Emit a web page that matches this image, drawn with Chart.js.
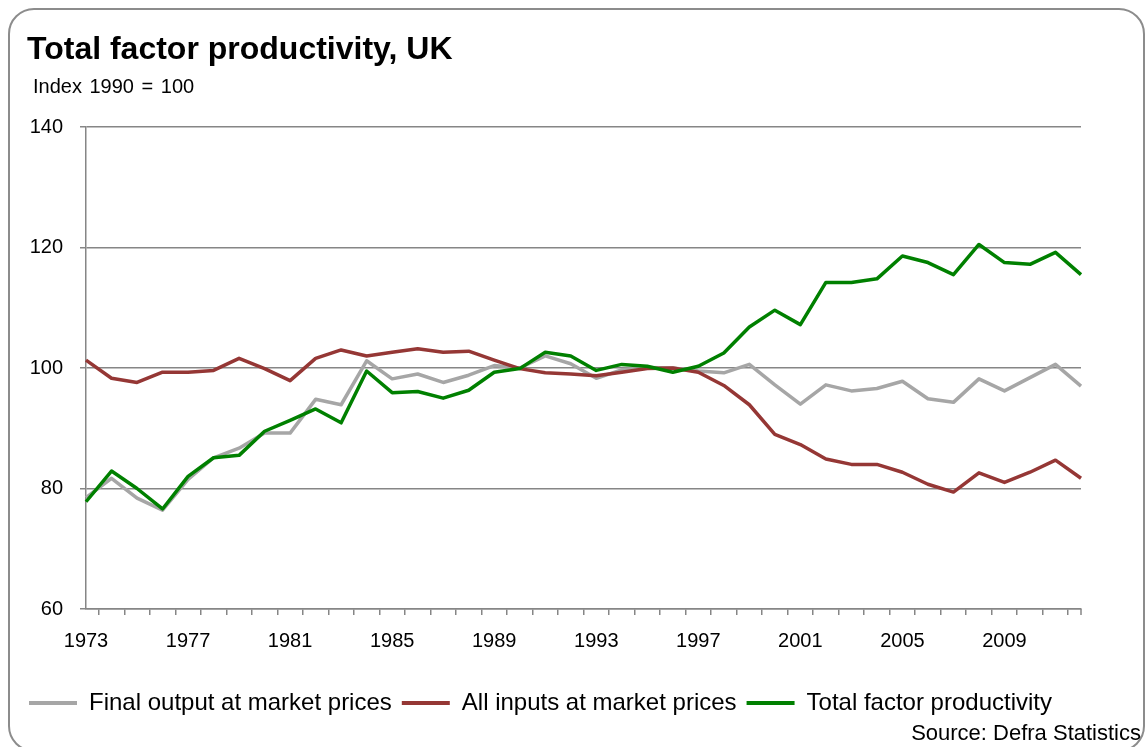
<!DOCTYPE html>
<html>
<head>
<meta charset="utf-8">
<title>Total factor productivity, UK</title>
<script src="https://cdn.jsdelivr.net/npm/chart.js@4/dist/chart.umd.min.js"></script>
<style>
  html, body { margin: 0; padding: 0; background: #fff; }
  #wrap { position: relative; width: 1148px; height: 747px; overflow: hidden; font-family: 'Liberation Sans', Arial, sans-serif; }
  #frame { position: absolute; left: 8px; top: 8px; width: 1137px; height: 744px; border: 2px solid #8c8c8c; border-radius: 26px; box-sizing: border-box; pointer-events: none; }
  .txt { position: absolute; color: #000; white-space: nowrap; pointer-events: none; }
  #title { left: 27px; top: 32px; font-size: 32px; line-height: 32px; font-weight: bold; }
  #subtitle { left: 33px; top: 76px; font-size: 20px; line-height: 20px; word-spacing: 2px; }
  #source { right: 7px; top: 722px; font-size: 22px; line-height: 22px; }
</style>
</head>
<body>
<div id="wrap">
  <canvas id="tfp-chart" width="1148" height="747"></canvas>
  <div id="frame"></div>
  <div class="txt" id="title">Total factor productivity, UK</div>
  <div class="txt" id="subtitle">Index 1990 = 100</div>
  <div class="txt" id="source">Source: Defra Statistics</div>
</div>
<script>
// Datos (índice 1990 = 100)
const years = ["1973", "1974", "1975", "1976", "1977", "1978", "1979", "1980", "1981", "1982",
               "1983", "1984", "1985", "1986", "1987", "1988", "1989", "1990", "1991", "1992",
               "1993", "1994", "1995", "1996", "1997", "1998", "1999", "2000", "2001", "2002",
               "2003", "2004", "2005", "2006", "2007", "2008", "2009", "2010", "2011", "2012"];

const finalOutput = [78.5, 81.7, 78.4, 76.4, 81.5, 85.1, 86.7, 89.2, 89.2, 94.8,
                     93.9, 101.2, 98.2, 99.0, 97.6, 98.8, 100.4, 100.0, 102.0, 100.7,
                     98.3, 99.7, 100.1, 100.0, 99.5, 99.2, 100.6, 97.2, 94.0, 97.2,
                     96.2, 96.6, 97.8, 94.9, 94.3, 98.2, 96.2, 98.4, 100.6, 97.0];

const allInputs = [101.3, 98.3, 97.6, 99.3, 99.3, 99.6, 101.6, 99.9, 97.9, 101.6,
                   103.0, 102.0, 102.6, 103.2, 102.6, 102.8, 101.3, 99.9, 99.2, 99.0,
                   98.7, 99.3, 99.9, 100.0, 99.3, 97.1, 93.9, 89.0, 87.3, 84.9,
                   84.0, 84.0, 82.7, 80.7, 79.4, 82.6, 81.0, 82.7, 84.7, 81.7];

const tfp = [77.8, 82.9, 80.0, 76.6, 82.0, 85.1, 85.5, 89.5, 91.3, 93.2,
             90.9, 99.5, 95.9, 96.1, 95.0, 96.3, 99.3, 99.9, 102.6, 102.0,
             99.6, 100.6, 100.3, 99.3, 100.3, 102.5, 106.8, 109.6, 107.2, 114.2,
             114.2, 114.8, 118.6, 117.5, 115.5, 120.5, 117.5, 117.2, 119.2, 115.5];

const yTicks = [60, 80, 100, 120, 140];

const gridColor = "#868686";

Chart.defaults.font.family = "'Liberation Sans', Arial, sans-serif";
Chart.defaults.color = "#000";

// Marca final del eje X (cierre a la derecha, como en Excel)
const endTick = {
  id: 'endTick',
  afterDraw(chart) {
    const { ctx, chartArea } = chart;
    ctx.save();
    ctx.strokeStyle = gridColor;
    ctx.lineWidth = 1.5;
    ctx.beginPath();
    ctx.moveTo(chartArea.right, chartArea.bottom);
    ctx.lineTo(chartArea.right, chartArea.bottom + 6);
    ctx.stroke();
    ctx.restore();
  }
};

new Chart(document.getElementById("tfp-chart"), {
  type: 'line',
  data: {
    labels: years,
    datasets: [
      {
        label: "Final output at market prices",
        data: finalOutput,
        borderColor: "#A6A6A6",
        backgroundColor: "#A6A6A6",
        order: 3
      },
      {
        label: "All inputs at market prices",
        data: allInputs,
        borderColor: "#953735",
        backgroundColor: "#953735",
        order: 2
      },
      {
        label: "Total factor productivity",
        data: tfp,
        borderColor: "#008000",
        backgroundColor: "#008000",
        order: 1
      }
    ]
  },
  options: {
    responsive: false,
    animation: false,
    layout: { padding: { top: 127, left: 0, right: 67, bottom: 22 } },
    elements: {
      line: { borderWidth: 3.5, tension: 0, fill: false, borderJoinStyle: 'round' },
      point: { radius: 0, hoverRadius: 0 }
    },
    plugins: {
      tooltip: { enabled: false },
      title: { display: false },
      legend: {
        position: 'bottom',
        labels: {
          font: { size: 24 },
          boxWidth: 48,
          boxHeight: 4,
          padding: 10,
          sort: (a, b) => a.datasetIndex - b.datasetIndex,
          generateLabels: function(chart) {
            const items = Chart.defaults.plugins.legend.labels.generateLabels(chart);
            items.forEach(it => { it.lineWidth = 0; it.fillStyle = it.strokeStyle; });
            return items;
          }
        }
      }
    },
    scales: {
      x: {
        offset: false,
        grid: { drawOnChartArea: false, offset: true, tickLength: 6, color: gridColor, lineWidth: 1.5 },
        border: { display: true, color: gridColor, width: 1.5 },
        ticks: {
          autoSkip: false,
          maxRotation: 0,
          padding: 14,
          font: { size: 20 },
          callback: function(value, index) {
            return index % 4 === 0 ? years[index] : '';
          }
        },
        afterFit: function(scale) { scale.height = 72; }
      },
      y: {
        min: 60,
        max: 140,
        afterBuildTicks: function(scale) {
          scale.ticks = yTicks.map(v => ({ value: v }));
        },
        grid: { color: gridColor, lineWidth: 1.5, tickLength: 6 },
        border: { display: true, color: gridColor, width: 1.5 },
        ticks: { padding: 17, font: { size: 20 } },
        afterFit: function(scale) { scale.width = 86; }
      }
    }
  },
  plugins: [endTick]
});
</script>
</body>
</html>
